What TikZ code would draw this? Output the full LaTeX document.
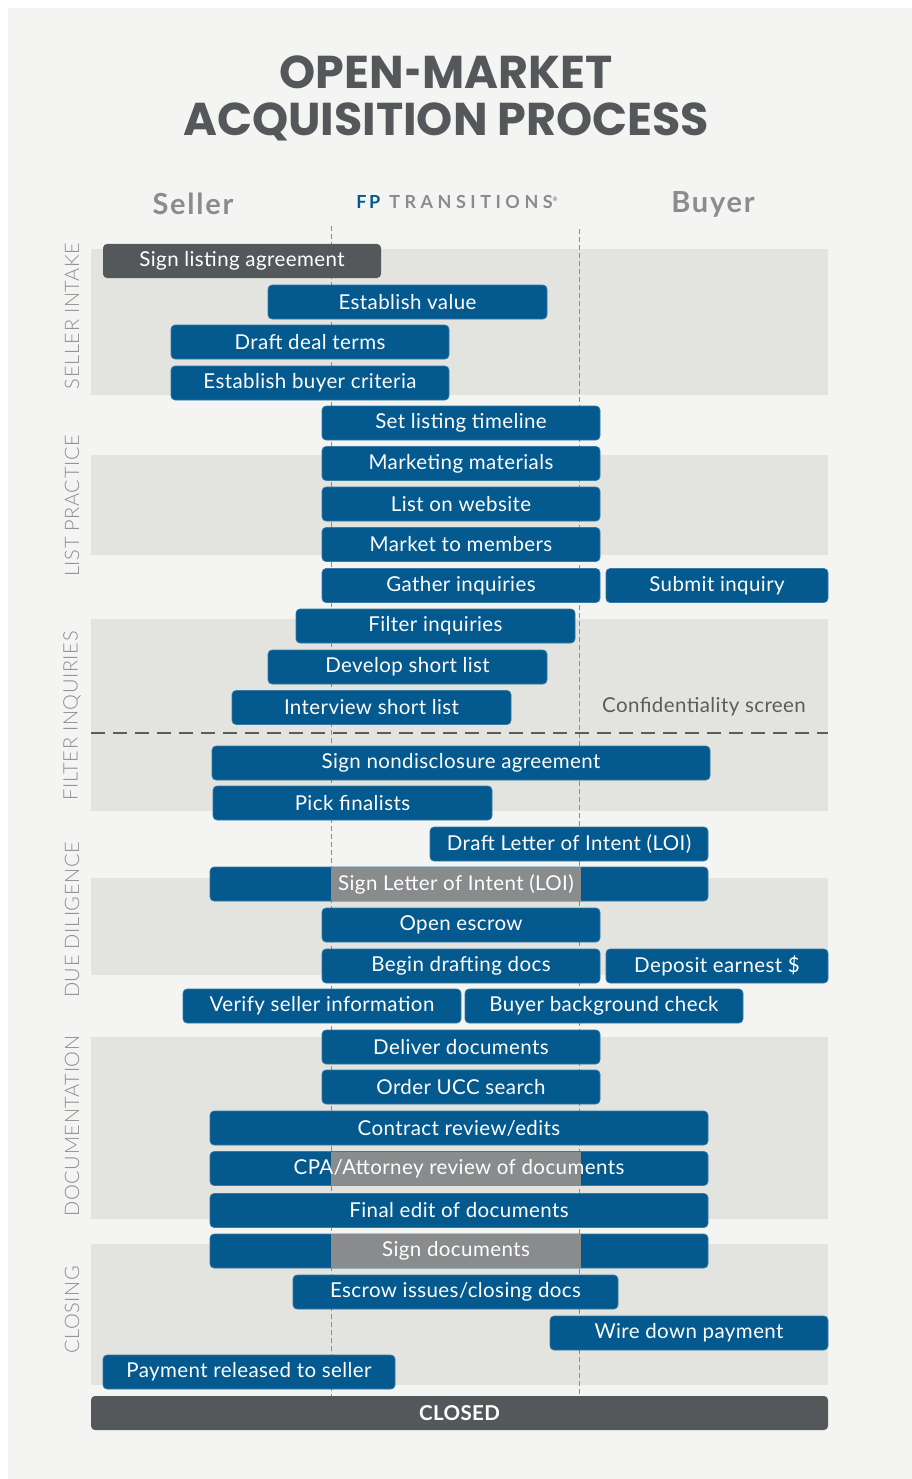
\documentclass[tikz,border=0pt]{standalone}
\usepackage{fontspec}
\usepackage{graphicx}
\setmainfont{Lato}
\newfontfamily\titlefont{Poppins}
\newfontfamily\barfont[LetterSpace=2]{Lato}
\newfontfamily\headfont[LetterSpace=6]{Lato}
\newfontfamily\fpfont[LetterSpace=15]{Lato}
\newfontfamily\spacedfont[LetterSpace=25]{Lato}
\newfontfamily\lightfont[LetterSpace=3]{Lato Light}
\definecolor{fpblue}{HTML}{04598F}
\definecolor{fpdark}{HTML}{55585B}
\definecolor{fpover}{HTML}{898B8D}
\definecolor{fpband}{HTML}{E3E4E0}
\definecolor{fppanel}{HTML}{F4F5F3}
\definecolor{fplabel}{HTML}{8A8C8E}
\definecolor{fptext}{HTML}{5A5C5F}
\tikzset{
  barbase/.style={minimum height=34pt, inner sep=0pt, rounded corners=4pt, text=white, font=\barfont\fontsize{20.5}{21}\selectfont},
  bluebar/.style={barbase, fill=fpblue, draw=fpblue!80!white, line width=0.6pt},
  darkbar/.style={barbase, fill=fpdark},
  overbox/.style={minimum height=34pt, minimum width=250pt, inner sep=0pt, fill=fpover, text=white, font=\barfont\fontsize{20.5}{21}\selectfont},
  bartext/.style={inner sep=0pt, text=white, font=\barfont\fontsize{20.5}{21}\selectfont},
  band/.style={fill=fpband},
  seclabel/.style={rotate=90, text=fplabel, font=\lightfont\fontsize{20}{21}\selectfont, inner sep=0pt},
  lane/.style={draw=fplabel, line width=0.8pt, dash pattern=on 5pt off 3pt},
  screenline/.style={draw=fptext, line width=1.2pt, dash pattern=on 14pt off 8pt},
  titletext/.style={text=fpdark, font=\titlefont\bfseries\fontsize{46}{48}\selectfont},
}
\begin{document}
\begin{tikzpicture}[x=1pt,y=-1pt]
\useasboundingbox (0,0) rectangle (912,1479);
\fill[white] (0,0) rectangle (912,1479);
\fill[fppanel] (8,8) rectangle (912,1479);
% title
\node[titletext] (title1) at (446,72) {OPEN\hspace{1pt}\scalebox{0.6}[1]{-}\hspace{1pt}MARKET};
\node[titletext] (title2) at (446,122) {ACQUISITION PROCESS};
% headers
\node[text=fplabel, font=\headfont\bfseries\fontsize{29}{30}\selectfont] (hseller) at (193,204) {Seller};
\node[text=fplabel, font=\headfont\bfseries\fontsize{29}{30}\selectfont] (hbuyer) at (713,204) {Buyer};
\node[font=\bfseries\fontsize{18}{20}\selectfont, inner sep=0pt] (logo) at (457,202) {\textcolor{fpblue}{\fpfont\bfseries FP}\hspace{9pt}\textcolor{fplabel}{\spacedfont\bfseries TRANSITIONS}\raisebox{7pt}{\textcolor{fplabel}{\fontsize{6}{6}\selectfont\textregistered}}};
% bands
\fill[band] (91,249) rectangle (828,395);
\fill[band] (91,455) rectangle (828,555);
\fill[band] (91,619) rectangle (828,811);
\fill[band] (91,878) rectangle (828,975);
\fill[band] (91,1037) rectangle (828,1219);
\fill[band] (91,1244) rectangle (828,1385);
% section labels
\node[seclabel] (s1) at (72,316) {SELLER INTAKE};
\node[seclabel] (s2) at (72,506) {LIST PRACTICE};
\node[seclabel] (s3) at (72,716) {FILTER INQUIRIES};
\node[seclabel] (s4) at (72,920) {DUE DILIGENCE};
\node[seclabel] (s5) at (72,1126) {DOCUMENTATION};
\node[seclabel] (s6) at (72,1310) {CLOSING};
% lanes
\coordinate (ls1) at (331,226); \coordinate (ls2) at (331,1396);
\coordinate (lb1) at (579,229); \coordinate (lb2) at (579,1396);
\draw[lane] (ls1) -- (ls2);
\draw[lane] (lb1) -- (lb2);
\coordinate (sc1) at (91,733); \coordinate (sc2) at (828,733);
\draw[screenline] (sc1) -- (sc2);
\node[text=fptext, font=\barfont\fontsize{20.5}{21}\selectfont] (conf) at (704,707) {Confidentiality screen};
% bars
\node[darkbar, minimum width=278pt] (b1) at (242,261) {Sign listing agreement};
\node[bluebar, minimum width=279pt] (b2) at (407.5,302) {Establish value};
\node[bluebar, minimum width=278pt] (b3) at (310,342) {Draft deal terms};
\node[bluebar, minimum width=278pt] (b4) at (310,383) {Establish buyer criteria};
\node[bluebar, minimum width=278pt] (b5) at (461,423) {Set listing timeline};
\node[bluebar, minimum width=278pt] (b6) at (461,463.5) {Marketing materials};
\node[bluebar, minimum width=278pt] (b7) at (461,504) {List on website};
\node[bluebar, minimum width=278pt] (b8) at (461,544.5) {Market to members};
\node[bluebar, minimum width=278pt] (b9) at (461,585.5) {Gather inquiries};
\node[bluebar, minimum width=222pt] (b9b) at (717,585.5) {Submit inquiry};
\node[bluebar, minimum width=279pt] (b10) at (435.5,626) {Filter inquiries};
\node[bluebar, minimum width=279pt] (b11) at (407.5,667) {Develop short list};
\node[bluebar, minimum width=279pt] (b12) at (371.5,707.5) {Interview short list};
\node[bluebar, minimum width=498pt] (b13) at (461,763) {Sign nondisclosure agreement};
\node[bluebar, minimum width=279pt] (b14) at (352.5,803) {Pick finalists};
\node[bluebar, minimum width=278pt] (b15) at (569,844) {Draft Letter of Intent (LOI)};
\node[bluebar, minimum width=498pt] (b16) at (459,884) {};
\node[overbox] (o16) at (456,884) {Sign Letter of Intent (LOI)};
\node[bluebar, minimum width=278pt] (b17) at (461,925) {Open escrow};
\node[bluebar, minimum width=278pt] (b18) at (461,966) {Begin drafting docs};
\node[bluebar, minimum width=222pt] (b18b) at (717,966) {Deposit earnest \$};
\node[bluebar, minimum width=278pt] (b19) at (322,1006) {Verify seller information};
\node[bluebar, minimum width=278pt] (b19b) at (604,1006) {Buyer background check};
\node[bluebar, minimum width=278pt] (b20) at (461,1047) {Deliver documents};
\node[bluebar, minimum width=278pt] (b21) at (461,1087) {Order UCC search};
\node[bluebar, minimum width=498pt] (b22) at (459,1128) {Contract review/edits};
\node[bluebar, minimum width=498pt] (b23) at (459,1168.5) {};
\node[overbox] (o23) at (456,1168.5) {};
\node[bartext] (t23) at (b23) {CPA/Attorney review of documents};
\node[bluebar, minimum width=498pt] (b24) at (459,1210.5) {Final edit of documents};
\node[bluebar, minimum width=498pt] (b25) at (459,1251) {};
\node[overbox] (o25) at (456,1251) {Sign documents};
\node[bluebar, minimum width=325pt] (b26) at (455.5,1292) {Escrow issues/closing docs};
\node[bluebar, minimum width=278pt] (b27) at (689,1333) {Wire down payment};
\node[bluebar, minimum width=292pt] (b28) at (249,1372) {Payment released to seller};
\node[darkbar, minimum width=737pt, font=\barfont\bfseries\fontsize{20.5}{21}\selectfont] (b29) at (459.5,1413) {CLOSED};
\end{tikzpicture}
\end{document}
